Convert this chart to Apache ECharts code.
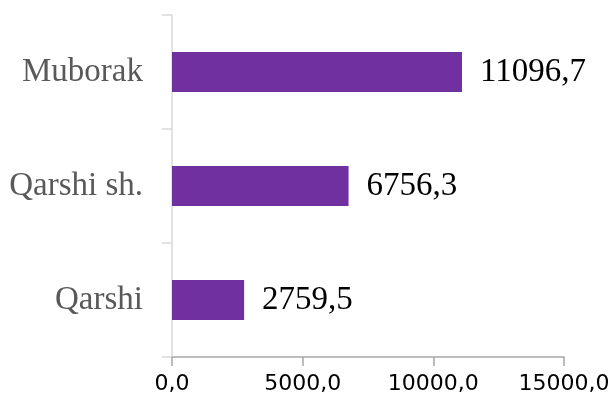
<!DOCTYPE html>
<html>
<head>
<meta charset="utf-8">
<script src="https://cdn.jsdelivr.net/npm/echarts@6/dist/echarts.min.js"></script>
<style>
    html, body { margin: 0; padding: 0; background: #fff; }
    #chart { width: 614px; height: 405px; }
</style>
</head>
<body>
<div id="chart"></div>
<script>
    // districts, bottom to top
    const districts = ['Qarshi', 'Qarshi sh.', 'Muborak'];
    const values = [2759.5, 6756.3, 11096.7];
    const xTicks = [0, 5000, 10000, 15000];

    const fmt = v => v.toFixed(1).replace('.', ',');

    const chart = echarts.init(document.getElementById('chart'));
    chart.setOption({
        animation: false,
        grid: { left: 172, right: 50, top: 15, bottom: 48 },
        xAxis: {
            type: 'value',
            min: xTicks[0],
            max: xTicks[xTicks.length - 1],
            interval: xTicks[1] - xTicks[0],
            axisLine: { show: true, lineStyle: { color: '#a6a6a6', width: 1.5 } },
            axisTick: { show: true, length: 9, lineStyle: { color: '#a6a6a6', width: 1.5 } },
            splitLine: { show: false },
            axisLabel: {
                margin: 16,
                color: '#000',
                fontFamily: 'DejaVu Sans',
                fontSize: 22,
                formatter: fmt
            }
        },
        yAxis: {
            type: 'category',
            data: districts,
            axisLine: { lineStyle: { color: '#d9d9d9', width: 1.5 } },
            axisTick: { show: true, length: 10, lineStyle: { color: '#d9d9d9', width: 1.5 } },
            axisLabel: {
                margin: 29,
                color: '#595959',
                fontFamily: 'Liberation Serif',
                fontSize: 33
            }
        },
        series: [{
            type: 'bar',
            data: values,
            barWidth: 40,
            itemStyle: { color: '#7030a0' },
            label: {
                show: true,
                position: 'right',
                distance: 18,
                color: '#000',
                fontFamily: 'Liberation Serif',
                fontSize: 33,
                formatter: p => fmt(p.value)
            }
        }]
    });
</script>
</body>
</html>
